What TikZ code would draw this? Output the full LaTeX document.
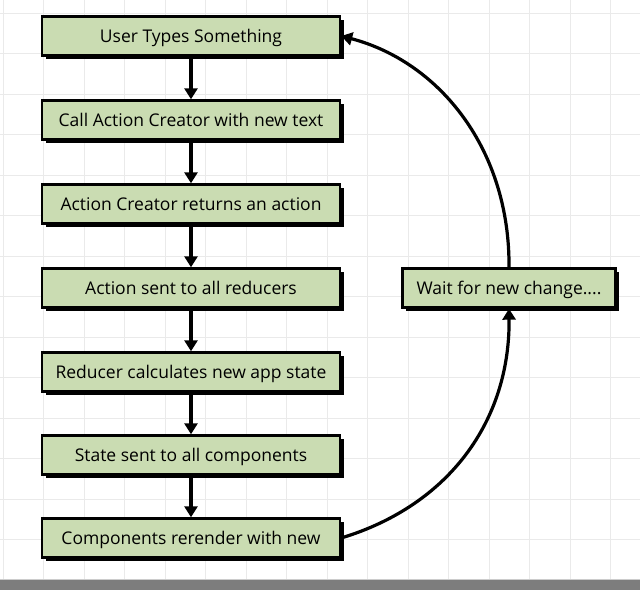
\documentclass[tikz,border=0pt]{standalone}
\usepackage{fontspec}
\setmainfont{Open Sans}
\usetikzlibrary{arrows.meta,shadows}
\definecolor{boxgreen}{RGB}{202,220,178}
\definecolor{gridgray}{RGB}{234,234,234}
\definecolor{bargray}{RGB}{125,125,125}
\tikzset{
  flowbox/.style={draw=black, line width=2.4pt, fill=boxgreen, minimum height=39pt,
    inner sep=0pt, text depth=0pt, font=\fontsize{17.5}{20}\selectfont,
    drop shadow={shadow xshift=3.5pt, shadow yshift=-3.5pt, opacity=1, fill=black}},
  flowarrow/.style={line width=3.2pt, -{Triangle[width=13pt,length=11pt]}}
}
\begin{document}
\begin{tikzpicture}[x=1pt,y=-1pt]
\useasboundingbox (0,0) rectangle (640,590);
\fill[white] (0,0) rectangle (640,590);
\foreach \i in {0,...,15} {
  \draw[gridgray, line width=0.8pt] (3+40.5*\i,0) -- (3+40.5*\i,580);
  \draw[gridgray, line width=0.8pt] (0,13+40.5*\i) -- (640,13+40.5*\i);
}
\fill[bargray] (0,580) rectangle (640,590);
\draw[gray!40, line width=1pt] (0,579) -- (640,579);

\node[flowbox, minimum width=298pt] (user) at (191,36) {User Types Something};
\node[flowbox, minimum width=298pt] (call) at (191,120) {Call Action Creator with new text};
\node[flowbox, minimum width=298pt] (ret) at (191,204) {Action Creator returns an action};
\node[flowbox, minimum width=298pt] (sent) at (191,288) {Action sent to all reducers};
\node[flowbox, minimum width=298pt] (red) at (191,372) {Reducer calculates new app state};
\node[flowbox, minimum width=298pt] (state) at (191,455) {State sent to all components};
\node[flowbox, minimum width=298pt] (comp) at (191,538) {Components rerender with new};
\node[flowbox, minimum width=213pt] (wait) at (509,288) {Wait for new change....};

\draw[flowarrow] (user) -- (call);
\draw[flowarrow] (call) -- (ret);
\draw[flowarrow] (ret) -- (sent);
\draw[flowarrow] (sent) -- (red);
\draw[flowarrow] (red) -- (state);
\draw[flowarrow] (state) -- (comp);
\draw[flowarrow] (wait.north) .. controls (510,150) and (440,62) .. (user.east);
\draw[flowarrow] (comp.east) .. controls (450,505) and (510,420) .. (wait.south);
\end{tikzpicture}
\end{document}
